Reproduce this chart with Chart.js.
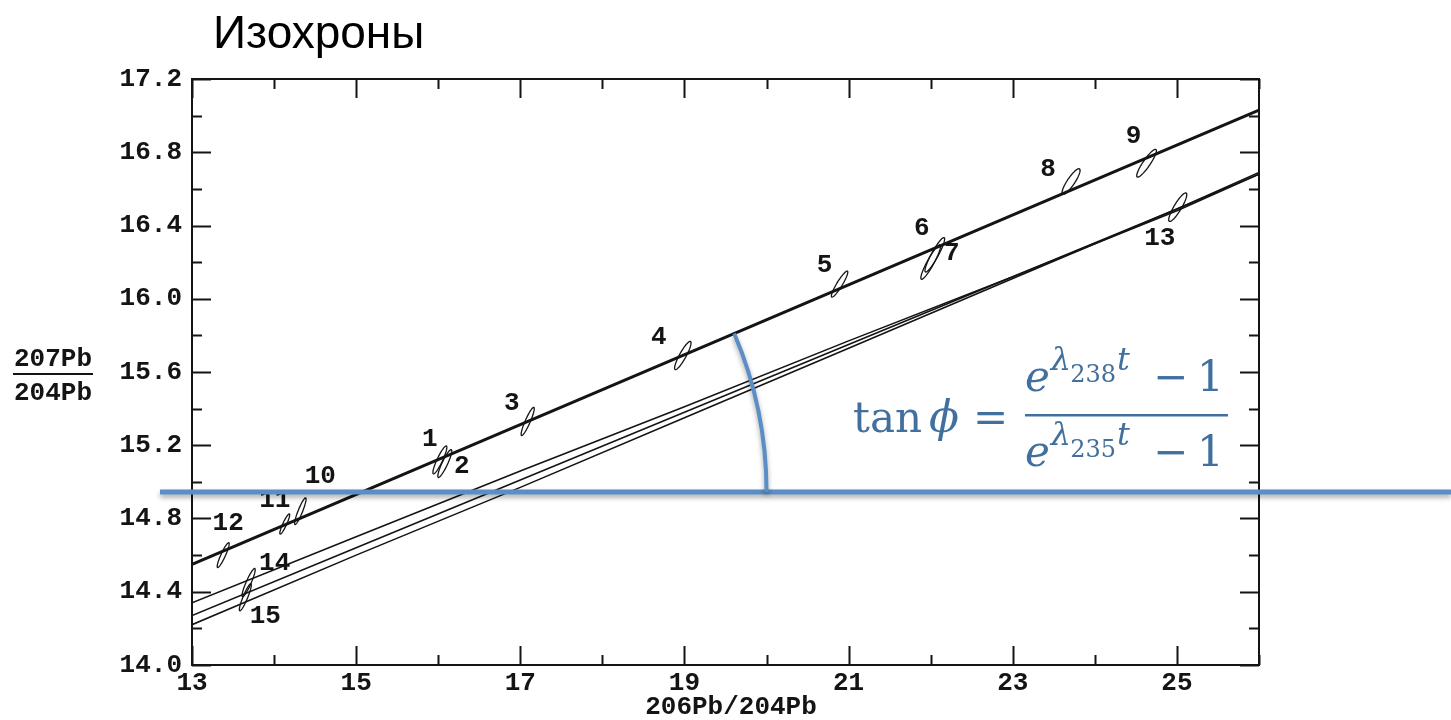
<!DOCTYPE html>
<html>
<head>
<meta charset="utf-8">
<script src="https://cdn.jsdelivr.net/npm/chart.js@4.4.0/dist/chart.umd.min.js"></script>
<style>
html,body{margin:0;padding:0;background:#ffffff;}
#wrap{width:1451px;height:720px;position:relative;overflow:hidden;}
canvas{display:block;}
</style>
</head>
<body>
<div id="wrap"><canvas id="c" width="1451" height="720"></canvas></div>
<script>
// ---------- data ----------
const chartTitle = 'Изохроны';
const xAxisTitle = '206Pb/204Pb';
const yAxisTitleTop = '207Pb';
const yAxisTitleBottom = '204Pb';
const xTickLabels = ['13', '15', '17', '19', '21', '23', '25'];
const yTickLabels = ['14.0', '14.4', '14.8', '15.2', '15.6', '16.0', '16.4', '16.8', '17.2'];

// isochron through samples 1-12
const isoA_x = [13, 26];
const isoA_y = [14.55, 17.03];

// isochron through samples 13-15 with its envelope
const isoB_x     = [13, 15, 17, 19, 21, 23, 25, 26];
const isoB_upper = [14.34, 14.70, 15.06, 15.41, 15.77, 16.12, 16.48, 16.68];
const isoB_mid   = [14.27, 14.64, 15.01, 15.38, 15.75, 16.12, 16.49, 16.68];
const isoB_lower = [14.22, 14.60, 14.97, 15.35, 15.73, 16.11, 16.49, 16.69];

// samples: 206Pb/204Pb, 207Pb/204Pb, half-extents of error ellipses, correlation
const sampleIds = ['1', '2', '3', '4', '5', '6', '7', '8', '9', '10', '11', '12', '13', '14', '15'];
const sample206 = [16.02, 16.08, 17.09, 18.98, 20.89, 22.05, 22.00, 23.71, 24.63, 14.32, 14.13, 13.38, 25.01, 13.69, 13.65];
const sample207 = [15.12, 15.10, 15.33, 15.69, 16.08, 16.24, 16.20, 16.64, 16.74, 14.84, 14.77, 14.60, 16.50, 14.45, 14.37];
const err206    = [0.085, 0.085, 0.080, 0.100, 0.100, 0.120, 0.120, 0.110, 0.120, 0.070, 0.060, 0.073, 0.110, 0.080, 0.073];
const err207    = [0.076, 0.076, 0.077, 0.077, 0.071, 0.094, 0.094, 0.070, 0.076, 0.073, 0.055, 0.068, 0.078, 0.077, 0.074];
const errRho    = [0.90, 0.90, 0.91, 0.89, 0.92, 0.92, 0.92, 0.87, 0.90, 0.91, 0.91, 0.91, 0.88, 0.91, 0.91];

// annotation: horizontal reference line level and arc reach (data units)
const refLevel207 = 14.945;
const refStart206 = 12.61;
const arcReach206 = 20.0;

// ---------- styles (kept apart from data) ----------
const labelOffsets = [[-10,-20],[17,3],[-16,-18],[-24,-18],[-15,-19],[-13,-26],[21,-9],[-23,-12],[-13,-27],[20,-35],[-10,-24],[5,-32],[-18,31],[26,-19],[20,19]];
const monoFont = '"Liberation Mono", "DejaVu Sans Mono", monospace';
const ink = '#141414';
const blueLine = '#5b8ec6';
const blueText = '#41709f';

function pts(xa, ya) { return xa.map((x, i) => ({x: x, y: ya[i]})); }

const framePlugin = {
  id: 'frameAndAnnotations',
  afterDatasetsDraw(chart) {
    const ctx = chart.ctx, xs = chart.scales.x, ys = chart.scales.y;
    ctx.save();
    ctx.strokeStyle = ink;
    ctx.lineWidth = 1.3;
    for (let i = 0; i < sampleIds.length; i++) {
      const r = errRho[i], q = Math.sqrt(1 - r * r);
      ctx.beginPath();
      for (let k = 0; k <= 80; k++) {
        const t = k / 80 * Math.PI * 2;
        const vx = sample206[i] + err206[i] * Math.cos(t);
        const vy = sample207[i] + err207[i] * (r * Math.cos(t) + q * Math.sin(t));
        const px = xs.getPixelForValue(vx), py = ys.getPixelForValue(vy);
        if (k === 0) ctx.moveTo(px, py); else ctx.lineTo(px, py);
      }
      ctx.closePath();
      ctx.stroke();
    }
    ctx.fillStyle = ink;
    ctx.font = 'bold 26px ' + monoFont;
    ctx.textAlign = 'center';
    ctx.textBaseline = 'middle';
    for (let i = 0; i < sampleIds.length; i++) {
      const px = xs.getPixelForValue(sample206[i]) + labelOffsets[i][0];
      const py = ys.getPixelForValue(sample207[i]) + labelOffsets[i][1];
      ctx.fillText(sampleIds[i], px, py);
    }
    ctx.restore();
  },
  afterDraw(chart) {
    const ctx = chart.ctx, xs = chart.scales.x, ys = chart.scales.y;
    const a = chart.chartArea;
    ctx.save();
    ctx.strokeStyle = ink;
    ctx.lineWidth = 2;
    ctx.strokeRect(a.left, a.top, a.right - a.left, a.bottom - a.top);
    ctx.beginPath();
    xs.ticks.forEach(t => {
      const major = xTickLabels.includes(String(t.value));
      const L = major ? 19 : 10;
      const px = Math.round(xs.getPixelForValue(t.value)) + 0.5;
      ctx.moveTo(px, a.bottom); ctx.lineTo(px, a.bottom - L);
      ctx.moveTo(px, a.top); ctx.lineTo(px, a.top + L);
    });
    ys.ticks.forEach(t => {
      const major = yTickLabels.includes(t.value.toFixed(1));
      const L = major ? 19 : 10;
      const py = Math.round(ys.getPixelForValue(t.value)) + 0.5;
      ctx.moveTo(a.left, py); ctx.lineTo(a.left + L, py);
      ctx.moveTo(a.right, py); ctx.lineTo(a.right - L, py);
    });
    ctx.stroke();

    // y axis title as a fraction
    ctx.fillStyle = ink;
    ctx.font = 'bold 26px ' + monoFont;
    ctx.textAlign = 'center';
    ctx.textBaseline = 'alphabetic';
    ctx.fillText(yAxisTitleTop, 53, 366);
    ctx.fillText(yAxisTitleBottom, 53, 400);
    ctx.fillRect(13, 373, 80, 2);

    // x axis title
    ctx.fillText(xAxisTitle, 731, 714);

    // chart title
    ctx.font = '46px "Liberation Sans", Arial, sans-serif';
    ctx.textAlign = 'left';
    ctx.fillStyle = '#000';
    ctx.fillText(chartTitle, 213, 48);

    // blue horizontal reference line + arc of angle phi
    const yRef = ys.getPixelForValue(refLevel207);
    const slope = (isoA_y[1] - isoA_y[0]) / (isoA_x[1] - isoA_x[0]);
    const xInt = isoA_x[0] + (refLevel207 - isoA_y[0]) / slope;
    const cx = xs.getPixelForValue(xInt);
    const pxA0 = xs.getPixelForValue(isoA_x[0]), pyA0 = ys.getPixelForValue(isoA_y[0]);
    const pxA1 = xs.getPixelForValue(isoA_x[1]), pyA1 = ys.getPixelForValue(isoA_y[1]);
    const theta = Math.atan2(pyA0 - pyA1, pxA1 - pxA0);
    const rad = xs.getPixelForValue(arcReach206) - cx;
    ctx.shadowColor = 'rgba(0,0,0,0.35)';
    ctx.shadowBlur = 5;
    ctx.shadowOffsetY = 3;
    ctx.strokeStyle = blueLine;
    ctx.lineWidth = 5;
    ctx.beginPath();
    ctx.moveTo(xs.getPixelForValue(refStart206), yRef);
    ctx.lineTo(chart.width, yRef);
    ctx.stroke();
    ctx.lineWidth = 4;
    ctx.beginPath();
    ctx.arc(cx, yRef, rad, -theta, 0);
    ctx.stroke();
    ctx.restore();

    drawFormula(ctx);
  }
};

function drawFormula(ctx) {
  ctx.save();
  ctx.fillStyle = blueText;
  ctx.textBaseline = 'alphabetic';
  ctx.textAlign = 'left';
  const serif = '"DejaVu Serif", "Liberation Serif", serif';
  ctx.font = '42px ' + serif;
  ctx.fillText('tan', 853, 432);
  ctx.font = 'italic 44px ' + serif;
  ctx.fillText('\u03D5', 929, 432);
  ctx.font = '42px ' + serif;
  ctx.fillText('=', 973, 432);
  ctx.fillRect(1025, 414, 203, 2.5);
  function part(base, sub) {
    let x = 1025;
    ctx.font = 'italic 42px ' + serif;
    ctx.fillText('e', x, base);
    x += ctx.measureText('e').width + 1;
    ctx.font = 'italic 32px ' + serif;
    ctx.fillText('\u03BB', x, base - 21);
    x += ctx.measureText('\u03BB').width - 1;
    ctx.font = '24px ' + serif;
    ctx.fillText(sub, x, base - 9);
    x += ctx.measureText(sub).width + 1;
    ctx.font = 'italic 32px ' + serif;
    ctx.fillText('t', x, base - 21);
    ctx.font = '42px ' + serif;
    ctx.fillText('\u2212', 1153, base);
    ctx.fillText('1', 1197, base);
  }
  part(391, '238');
  part(466, '235');
  ctx.restore();
}

const cfg = {
  type: 'scatter',
  data: {
    datasets: [
      { data: pts(isoA_x, isoA_y), showLine: true, borderColor: ink, borderWidth: 3, pointRadius: 0 },
      { data: pts(isoB_x, isoB_upper), showLine: true, borderColor: ink, borderWidth: 1.6, pointRadius: 0 },
      { data: pts(isoB_x, isoB_mid), showLine: true, borderColor: ink, borderWidth: 1.6, pointRadius: 0 },
      { data: pts(isoB_x, isoB_lower), showLine: true, borderColor: ink, borderWidth: 1.6, pointRadius: 0 }
    ]
  },
  options: {
    responsive: false,
    animation: false,
    devicePixelRatio: 1,
    layout: { padding: { left: 0, right: 192, top: 79, bottom: 0 } },
    plugins: { legend: { display: false }, tooltip: { enabled: false } },
    scales: {
      x: {
        type: 'linear', min: 13, max: 26,
        afterFit(s) { s.height = 55; },
        grid: { display: false, drawTicks: false },
        border: { display: false },
        ticks: {
          stepSize: 1, autoSkip: false, maxRotation: 0, padding: 3, color: ink,
          font: { family: monoFont, size: 26, weight: 'bold' },
          callback: v => xTickLabels.includes(String(v)) ? String(v) : ''
        },
        title: { display: false, text: xAxisTitle }
      },
      y: {
        type: 'linear', min: 14, max: 17.2,
        afterFit(s) { s.width = 192; },
        grid: { display: false, drawTicks: false },
        border: { display: false },
        ticks: {
          stepSize: 0.2, autoSkip: false, padding: 10, color: ink,
          font: { family: monoFont, size: 26, weight: 'bold' },
          callback: v => { const s = Number(v).toFixed(1); return yTickLabels.includes(s) ? s : ''; }
        }
      }
    }
  },
  plugins: [framePlugin]
};
new Chart(document.getElementById('c'), cfg);
</script>
</body>
</html>
